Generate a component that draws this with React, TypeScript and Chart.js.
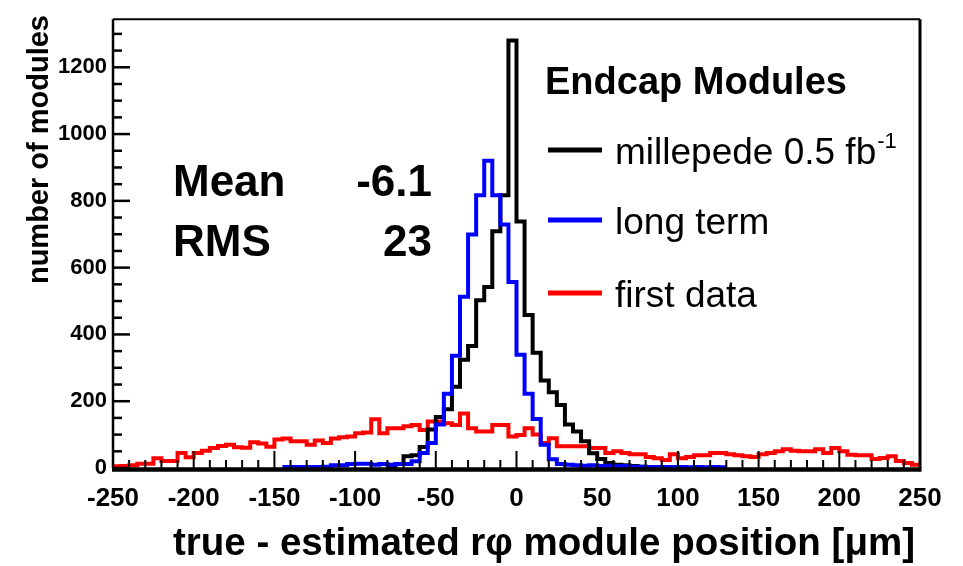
import React, { useEffect, useRef } from 'react';
import { Chart, registerables } from 'chart.js';

Chart.register(...registerables);

// ---- data ----
const X_MIN = -250;
const X_MAX = 250;
const BIN_WIDTH = 5;
const Y_MAX = 1344;

const xTickValues = [-250, -200, -150, -100, -50, 0, 50, 100, 150, 200, 250];
const yTickValues = [0, 200, 400, 600, 800, 1000, 1200];

// 100 bins of 5 um from -250 to 250 (null = not drawn)
const firstData = [
  5, 6, 8, 13, 13, 29, 21, 21, 45, 32,
  45, 52, 60, 66, 70, 62, 61, 77, 73, 64,
  85, 88, 80, 80, 70, 82, 75, 88, 92, 94,
  104, 106, 146, 104, 119, 119, 125, 129, 114, 139,
  139, 134, 129, 163, 119, 109, 109, 129, 129, 94,
  99, 119, 100, 75, 89, 65, 65, 65, 65, 60,
  60, 45, 50, 45, 41, 41, 33, 29, 24, 41,
  29, 33, 38, 38, 45, 45, 41, 38, 35, 33,
  41, 45, 50, 56, 52, 50, 50, 56, 45, 60,
  50, 40, 38, 38, 27, 30, 35, 21, 15, 10,
];

const longTerm = [
  null, null, null, null, null, null, null, null, null, null,
  null, null, null, null, null, null, null, null, null, null,
  null, 3, 3, 3, 3, 3, 4, 8, 8, 12,
  13, 13, 10, 12, 10, 12, 12, 20, 45, 75,
  130, 222, 336, 513, 699, 817, 920, 817, 729, 557,
  339, 222, 147, 70, 26, 12, 10, 8, 7, 8,
  6, 7, 5, 6, 4, 4, 3, 3, 3, 2,
  3, 2, 3, 2, 3, 2, null, null, null, null,
  null, null, null, null, null, null, null, null, null, null,
  null, null, null, null, null, null, null, null, null, null,
];

const millepede = [
  null, null, null, null, null, null, null, null, null, null,
  null, null, null, null, null, null, null, null, null, null,
  null, null, null, null, null, null, null, null, null, null,
  null, null, null, null, 3, 12, 35, 38, 63, 115,
  153, 176, 243, 324, 365, 502, 542, 709, 817, 1280,
  738, 458, 345, 262, 227, 189, 130, 109, 80, 44,
  27, 15, 10, 8, 6, 4, 3, 3, 2, 2,
  2, null, null, null, null, null, null, null, null, null,
  null, null, null, null, null, null, null, null, null, null,
  null, null, null, null, null, null, null, null, null, null,
];

const statNames = ['Mean', 'RMS'];
const statValues = ['-6.1', '23'];
const legendTitle = 'Endcap Modules';
const legendNames = ['millepede 0.5 fb', 'long term', 'first data'];
const legendSup = ['-1', '', ''];
const legendColors = ['#000000', '#0000ff', '#ff0000'];
const xTitle = 'true - estimated rφ module position [μm]';
const yTitle = 'number of modules';

const FONT = '"Liberation Sans", Arial, Helvetica, sans-serif';

function toSteps(values: (number | null)[]) {
  const pts: { x: number; y: number }[] = [];
  let last = -1;
  values.forEach((v, i) => {
    if (v === null) return;
    pts.push({ x: X_MIN + i * BIN_WIDTH, y: v });
    last = i;
  });
  if (last >= 0) pts.push({ x: X_MIN + (last + 1) * BIN_WIDTH, y: values[last] as number });
  return pts;
}

const decorPlugin = {
  id: 'decor',
  afterDraw(chart: any) {
    const ctx = chart.ctx as CanvasRenderingContext2D;
    const { left, right, top, bottom } = chart.chartArea;
    const xs = chart.scales.x;
    const ys = chart.scales.y;
    ctx.save();
    ctx.strokeStyle = '#000';
    ctx.fillStyle = '#000';
    ctx.lineCap = 'butt';

    // y ticks (inside)
    ctx.lineWidth = 2.5;
    for (let v = 0; v <= Y_MAX; v += 50) {
      const y = ys.getPixelForValue(v);
      const len = v % 200 === 0 ? 17 : 9;
      ctx.beginPath();
      ctx.moveTo(left, y);
      ctx.lineTo(left + len, y);
      ctx.stroke();
    }
    // x ticks (inside)
    ctx.lineWidth = 2;
    for (let v = X_MIN; v <= X_MAX; v += 10) {
      const x = xs.getPixelForValue(v);
      const len = v % 50 === 0 ? 17 : 8;
      ctx.beginPath();
      ctx.moveTo(x, bottom);
      ctx.lineTo(x, bottom - len);
      ctx.stroke();
    }

    // frame
    ctx.lineWidth = 2;
    ctx.beginPath();
    ctx.moveTo(left, top);
    ctx.lineTo(right, top);
    ctx.stroke();
    ctx.lineWidth = 3;
    ctx.beginPath();
    ctx.moveTo(right, top);
    ctx.lineTo(right, bottom);
    ctx.stroke();
    ctx.lineWidth = 2.5;
    ctx.beginPath();
    ctx.moveTo(left, top);
    ctx.lineTo(left, bottom);
    ctx.stroke();
    ctx.lineWidth = 4.5;
    ctx.beginPath();
    ctx.moveTo(left - 1, bottom + 1.5);
    ctx.lineTo(right + 1.5, bottom + 1.5);
    ctx.stroke();

    // axis titles
    ctx.font = `bold 29px ${FONT}`;
    ctx.textBaseline = 'middle';
    ctx.textAlign = 'right';
    ctx.save();
    ctx.translate(40, 15);
    ctx.rotate(-Math.PI / 2);
    ctx.fillText(yTitle, 0, 0);
    ctx.restore();

    ctx.font = `bold 38.5px ${FONT}`;
    ctx.textBaseline = 'alphabetic';
    ctx.textAlign = 'right';
    ctx.fillText(xTitle, 915, 555);

    // stats
    ctx.font = `bold 44px ${FONT}`;
    const statBase = [196, 256];
    statNames.forEach((n, i) => {
      ctx.textAlign = 'left';
      ctx.fillText(n, 173, statBase[i]);
      ctx.textAlign = 'right';
      ctx.fillText(statValues[i], 432, statBase[i]);
    });

    // legend
    ctx.textAlign = 'left';
    ctx.font = `bold 38px ${FONT}`;
    ctx.fillText(legendTitle, 545, 94);
    const lineY = [150, 220, 293];
    legendNames.forEach((name, i) => {
      ctx.strokeStyle = legendColors[i];
      ctx.lineWidth = 5;
      ctx.beginPath();
      ctx.moveTo(548, lineY[i]);
      ctx.lineTo(602, lineY[i]);
      ctx.stroke();
      ctx.font = `37px ${FONT}`;
      ctx.fillStyle = '#000';
      ctx.fillText(name, 615, lineY[i] + 14);
      if (legendSup[i]) {
        const w = ctx.measureText(name).width;
        ctx.font = `22px ${FONT}`;
        ctx.fillText(legendSup[i], 615 + w + 1, lineY[i] - 2);
      }
    });
    ctx.restore();
  },
};

export default function App() {
  const ref = useRef<HTMLCanvasElement>(null);
  useEffect(() => {
    if (!ref.current) return;
    const chart = new Chart(ref.current, {
      type: 'line',
      data: {
        datasets: [
          {
            label: legendNames[1],
            data: toSteps(longTerm),
            borderColor: '#0000ff',
            borderWidth: 4,
            stepped: 'before',
            pointRadius: 0,
            fill: false,
            order: 0,
          },
          {
            label: legendNames[0],
            data: toSteps(millepede),
            borderColor: '#000000',
            borderWidth: 4,
            stepped: 'before',
            pointRadius: 0,
            fill: false,
            order: 1,
          },
          {
            label: legendNames[2],
            data: toSteps(firstData),
            borderColor: '#ff0000',
            borderWidth: 4,
            stepped: 'before',
            pointRadius: 0,
            fill: false,
            order: 2,
          },
        ],
      },
      options: {
        animation: false,
        responsive: false,
        maintainAspectRatio: false,
        layout: { padding: { left: 0, right: 43, top: 11, bottom: 0 } },
        plugins: { legend: { display: false }, tooltip: { enabled: false } },
        scales: {
          x: {
            type: 'linear',
            min: X_MIN,
            max: X_MAX,
            grid: { display: false, drawTicks: false },
            border: { display: false },
            ticks: {
              color: '#000',
              font: { family: FONT, size: 26, weight: 'bold' },
              padding: 15,
              maxRotation: 0,
              autoSkip: false,
              callback: (v: any) => String(v),
            },
            afterBuildTicks: (s: any) => {
              s.ticks = xTickValues.map((v) => ({ value: v }));
            },
            afterFit: (s: any) => {
              s.height = 98;
            },
          },
          y: {
            type: 'linear',
            min: 0,
            max: Y_MAX,
            grid: { display: false, drawTicks: false },
            border: { display: false },
            ticks: {
              color: '#000',
              font: { family: FONT, size: 22, weight: 'bold' },
              padding: 6,
              autoSkip: false,
              callback: (v: any) => String(v),
            },
            afterBuildTicks: (s: any) => {
              s.ticks = yTickValues.map((v) => ({ value: v }));
            },
            afterFit: (s: any) => {
              s.width = 113;
            },
          },
        },
      } as any,
      plugins: [decorPlugin],
    });
    return () => chart.destroy();
  }, []);

  return (
    <div style={{ position: 'absolute', left: 0, top: 0, width: 963, height: 566, background: '#fff' }}>
      <canvas ref={ref} width={963} height={566} style={{ width: 963, height: 566, display: 'block' }} />
    </div>
  );
}
